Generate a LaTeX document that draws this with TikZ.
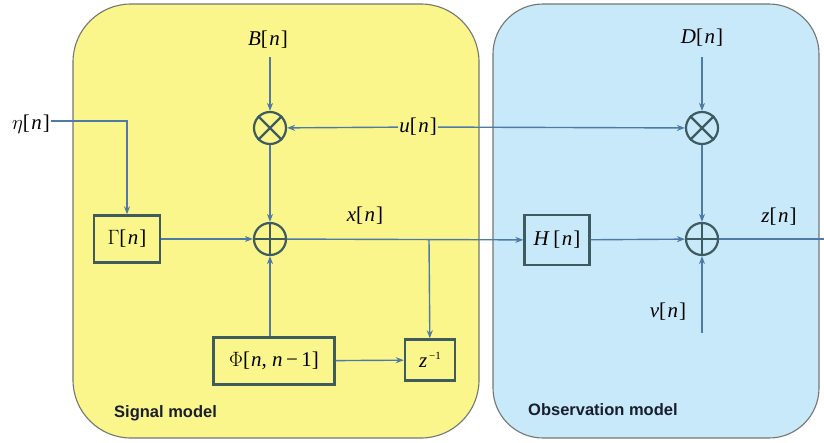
\documentclass[tikz,border=0pt]{standalone}
\usepackage{fontspec}
\setmainfont{Liberation Serif}
\newfontfamily\lsans{Liberation Sans}
\usetikzlibrary{arrows.meta}
\definecolor{yel}{RGB}{250,246,140}
\definecolor{blu}{RGB}{200,233,249}
\definecolor{ln}{RGB}{78,122,168}
\definecolor{bx}{RGB}{62,92,95}
\definecolor{frm}{RGB}{115,118,115}
\definecolor{cap}{RGB}{25,30,45}
\newcommand{\vn}{[\kern1.5pt\textit{n}\kern1pt]}
\begin{document}
\begin{tikzpicture}[x=1pt,y=-1pt,
  wire/.style={draw=ln, line width=1.4pt},
  arr/.style={wire,-{Stealth[length=8pt,width=6pt]}},
  blk/.style={draw=bx, line width=2.4pt, minimum height=47pt, inner sep=0pt, font=\fontsize{21}{22}\selectfont},
  lbl/.style={font=\fontsize{21}{22}\selectfont, inner sep=1pt, text=black},
  op/.style={circle, draw=bx, line width=2.2pt, minimum size=32pt, inner sep=0pt},
  panel/.style={draw=frm, line width=1.1pt, rounded corners=#1},
  capt/.style={font=\lsans\bfseries\fontsize{16.5}{18}\selectfont, text=cap, inner sep=0pt}
]
\useasboundingbox (0,0) rectangle (824,442);
\fill[white] (0,0) rectangle (824,442);
\draw[panel=58pt, fill=yel] (73,4) rectangle (479,438);
\draw[panel=50pt, fill=blu] (493,4) rectangle (819,438);
\node[capt, anchor=west] (sig) at (114,413) {Signal model};
\node[capt, anchor=west] (obs) at (528,410) {Observation model};

% blocks
\node[blk, minimum width=66pt] (G) at (127,239) {$\Gamma$\vn};
\node[blk, minimum width=121pt] (P) at (274,361) {$\Phi$[\kern1pt\textit{n}, \textit{n}\,−\,1]};
\node[blk, minimum width=50pt, minimum height=41pt] (Z) at (430,360) {\textit{z}\raisebox{8pt}{\fontsize{11}{11}\selectfont\,−1}};
\node[blk, minimum width=65pt, minimum height=50pt] (H) at (557,240) {\textit{H}\,\vn};

% operators
\node[op] (m1) at (270,128) {};
\draw[bx, line width=2.2pt] (m1.45) -- (m1.225) (m1.135) -- (m1.315);
\node[op] (a1) at (270,239) {};
\draw[bx, line width=2.2pt] (a1.north) -- (a1.south) (a1.west) -- (a1.east);
\node[op] (m2) at (702,128) {};
\draw[bx, line width=2.2pt] (m2.45) -- (m2.225) (m2.135) -- (m2.315);
\node[op] (a2) at (702,239) {};
\draw[bx, line width=2.2pt] (a2.north) -- (a2.south) (a2.west) -- (a2.east);

% labels
\node[lbl] (eta) at (31,124) {$\eta$\vn};
\node[lbl] (B) at (268,40) {\textit{B}\vn};
\node[lbl] (D) at (702,38) {\textit{D}\vn};
\node[lbl] (u) at (418,127) {\textit{u}\vn};
\node[lbl] (x) at (365,216) {\textit{x}\vn};
\node[lbl] (zn) at (779,217) {\textit{z}\vn};
\node[lbl] (nu) at (668,312) {\textit{ν}\vn};

\coordinate (Bs) at (270,57);
\coordinate (Ds) at (702,57);
\coordinate (eta1) at (127,121);
\coordinate (br) at (429,239);
\coordinate (out) at (824,239);
\coordinate (nus) at (702,333);

% connectors
\draw[arr] (Bs) -- (m1);
\draw[arr] (Ds) -- (m2);
\draw[arr] (eta.east |- eta1) -- (eta1) -- (G);
\draw[arr] (u) -- (m1);
\draw[arr] (u) -- (m2);
\draw[arr] (m1) -- (a1);
\draw[arr] (m2) -- (a2);
\draw[arr] (G) -- (a1);
\draw[arr] (P.north -| a1) -- (a1);
\draw[arr] (a1) -- (H);
\draw[arr] (br) -- (Z);
\draw[arr] (P) -- (Z);
\draw[arr] (H) -- (a2);
\draw[wire] (a2) -- (out);
\draw[arr] (nus) -- (a2);
\end{tikzpicture}
\end{document}
